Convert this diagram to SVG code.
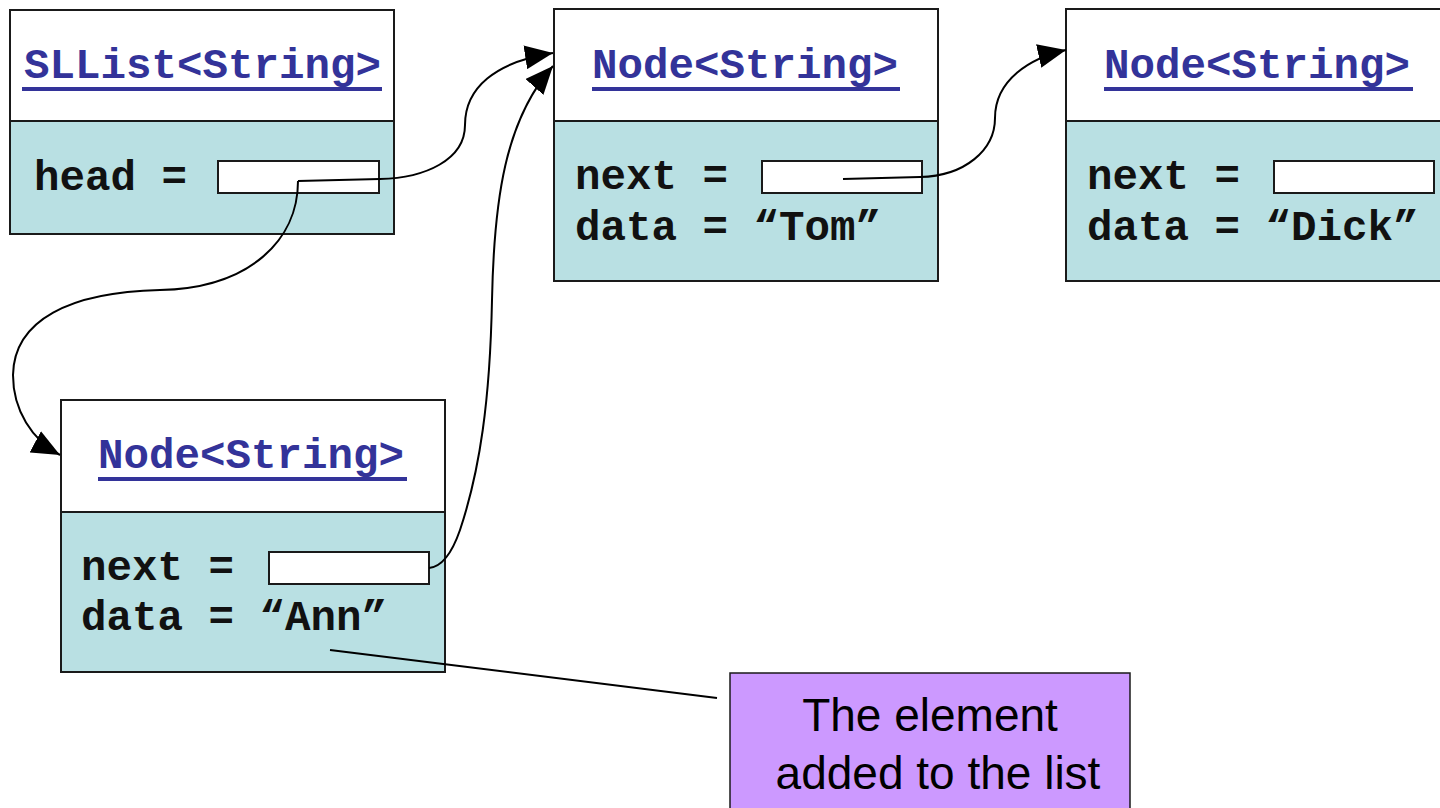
<svg xmlns="http://www.w3.org/2000/svg" width="1440" height="808" viewBox="0 0 1440 808">
  <style>
    .hdr { fill: #ffffff; stroke: #1a1a1a; stroke-width: 2; }
    .body { fill: #b9e0e3; stroke: #1a1a1a; stroke-width: 2; }
    .slot { fill: #ffffff; stroke: #1a1a1a; stroke-width: 2; }
    .title { font-family: "Liberation Mono", "Courier New", monospace; font-weight: bold; font-size: 42.5px; fill: #333399; }
    .uline { fill: #333399; }
    .field { font-family: "Liberation Mono", "Courier New", monospace; font-weight: bold; font-size: 42.5px; fill: #111111; }
    .link { fill: none; stroke: #000000; stroke-width: 2; }
    .note { fill: #cc99ff; stroke: #1a1a1a; stroke-width: 1.5; }
    .noteText { font-family: "Liberation Sans", Arial, sans-serif; font-size: 46px; fill: #000000; text-anchor: middle; }
  </style>
  <defs>
    <marker id="arrow" markerUnits="userSpaceOnUse" markerWidth="28" markerHeight="24" viewBox="0 0 28 24" refX="28" refY="12" orient="auto">
      <path d="M0,0 L28,12 L0,24 Z" fill="#000000"/>
    </marker>
  </defs>

  <rect width="1440" height="808" fill="#ffffff"/>

  <!-- list object -->
  <g id="sllist">
    <rect class="hdr" x="10" y="10" width="384" height="111"/>
    <rect class="body" x="10" y="121" width="384" height="113"/>
    <text class="title" x="24" y="78">SLList&lt;String&gt;</text>
    <rect class="uline" x="22" y="87" width="360" height="4"/>
    <text class="field" x="34" y="190">head =</text>
    <rect class="slot" x="218" y="161" width="161" height="32"/>
  </g>

  <!-- node holding "Tom" -->
  <g id="node-tom">
    <rect class="hdr" x="554" y="9" width="384" height="112"/>
    <rect class="body" x="554" y="121" width="384" height="160"/>
    <text class="title" x="592" y="78">Node&lt;String&gt;</text>
    <rect class="uline" x="592" y="87" width="308" height="4"/>
    <text class="field" x="575" y="189">next =</text>
    <rect class="slot" x="762" y="161" width="160" height="32"/>
    <text class="field" x="575" y="240">data = “Tom”</text>
  </g>

  <!-- node holding "Dick" -->
  <g id="node-dick">
    <rect class="hdr" x="1066" y="9" width="390" height="112"/>
    <rect class="body" x="1066" y="121" width="390" height="160"/>
    <text class="title" x="1104" y="78">Node&lt;String&gt;</text>
    <rect class="uline" x="1104" y="87" width="309" height="4"/>
    <text class="field" x="1087" y="189">next =</text>
    <rect class="slot" x="1274" y="161" width="160" height="32"/>
    <text class="field" x="1087" y="240">data = “Dick”</text>
  </g>

  <!-- newly inserted node holding "Ann" -->
  <g id="node-ann">
    <rect class="hdr" x="61" y="400" width="384" height="112"/>
    <rect class="body" x="61" y="512" width="384" height="160"/>
    <text class="title" x="98" y="468">Node&lt;String&gt;</text>
    <rect class="uline" x="98" y="477" width="309" height="4"/>
    <text class="field" x="81" y="580">next =</text>
    <rect class="slot" x="269" y="552" width="160" height="32"/>
    <text class="field" x="81" y="630">data = “Ann”</text>
  </g>

  <!-- callout -->
  <g id="callout">
    <rect class="note" x="730" y="673" width="400" height="145"/>
    <text class="noteText" x="930" y="731">The element</text>
    <text class="noteText" x="938" y="789">added to the list</text>
  </g>

  <!-- references between objects -->
  <g id="connectors">
    <path class="link" marker-end="url(#arrow)" d="M298,181 L380,179 C425,178 465,160 465,125 C465,88 495,62 553,53"/>
    <path class="link" marker-end="url(#arrow)" d="M298,181 C298,240 250,288 160,290 C70,292 14,320 13,375 C13,410 32,440 60,455"/>
    <path class="link" marker-end="url(#arrow)" d="M429,568 C440,567 451,556 460,530 C480,470 490,400 492,300 C494,200 505,120 553,66"/>
    <path class="link" marker-end="url(#arrow)" d="M843,179 L920,177 C965,176 995,150 995,118 C995,80 1030,58 1066,50"/>
    <path class="link" d="M330,650 L717,698"/>
  </g>
</svg>
